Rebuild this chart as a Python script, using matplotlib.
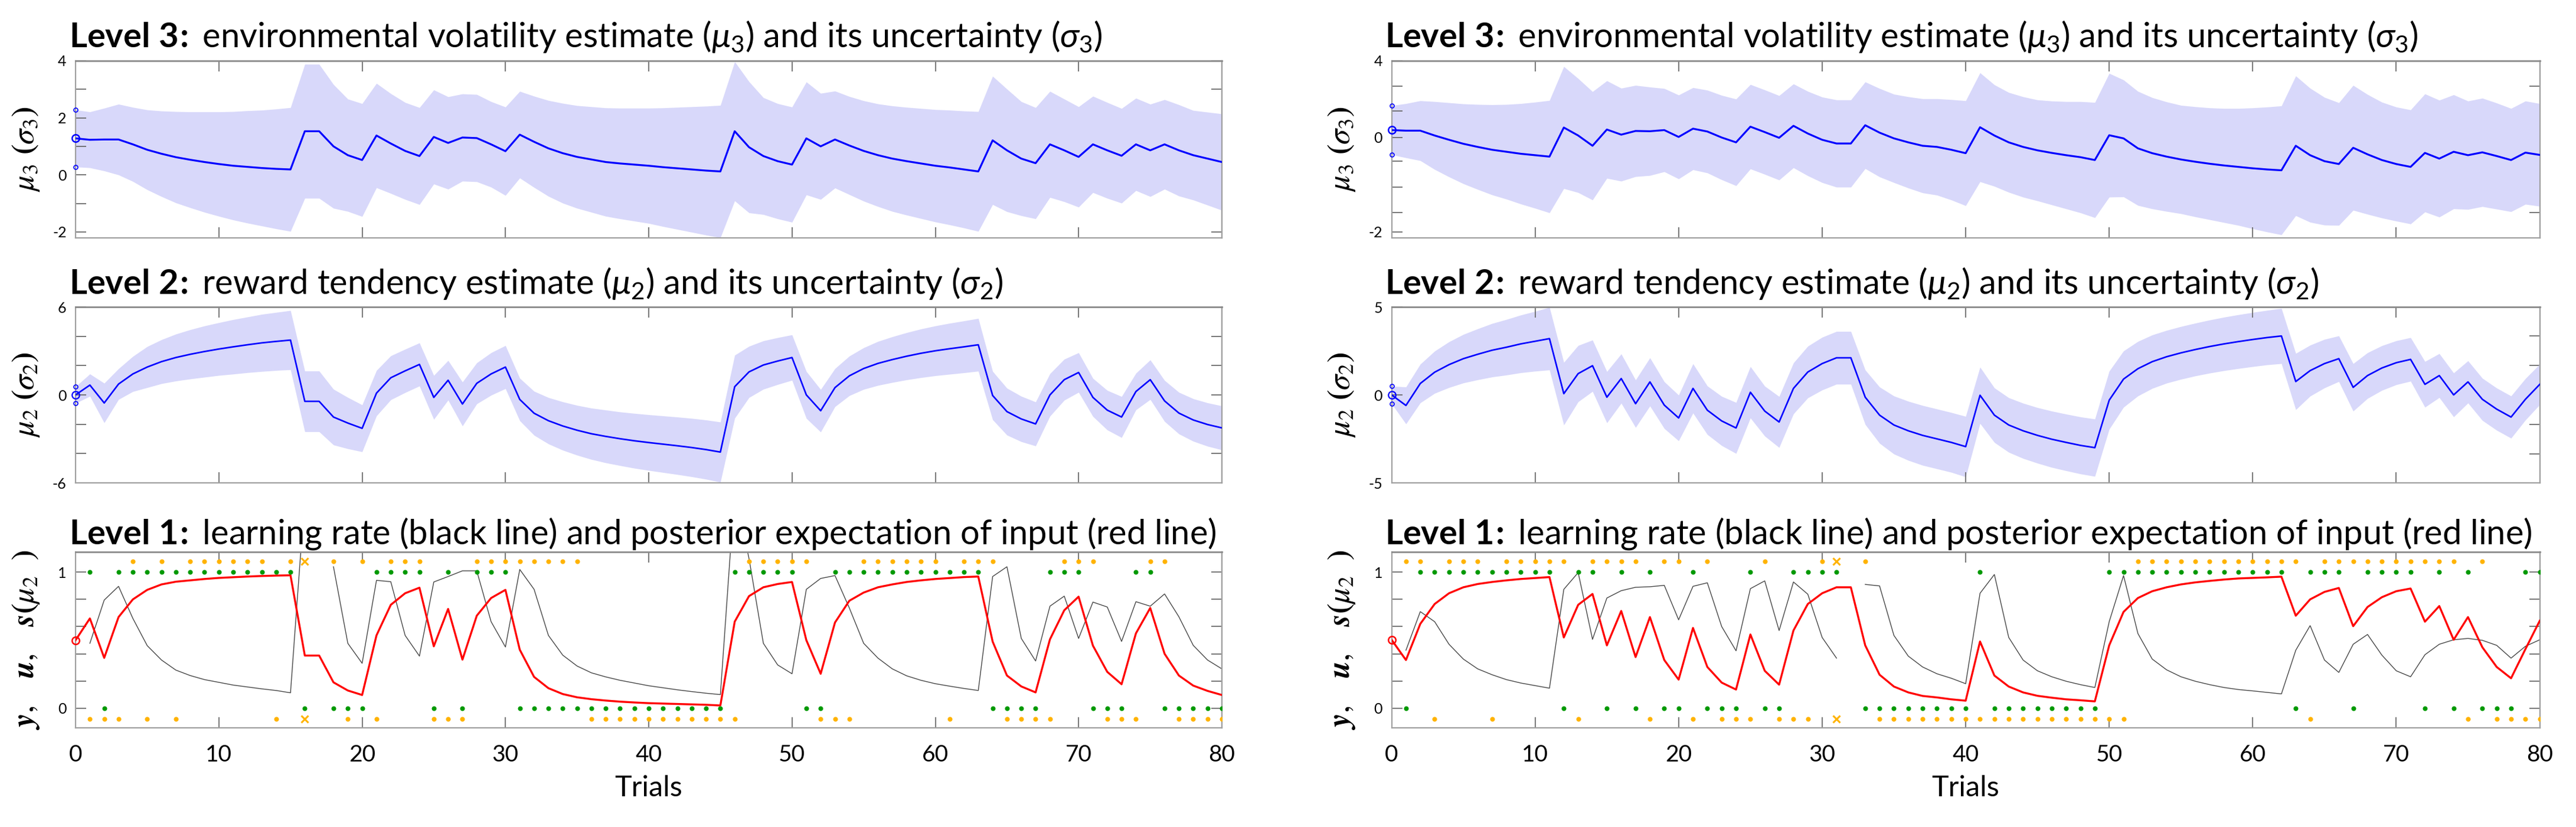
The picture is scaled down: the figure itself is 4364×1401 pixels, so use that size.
import numpy as np
import matplotlib
matplotlib.use('Agg')
import matplotlib.pyplot as plt

nan = np.nan
trials = np.arange(81)

# ---------------- left subject ----------------
mu3_A = [1.28, 1.23, 1.24, 1.24, 1.07, 0.88, 0.74, 0.62, 0.53, 0.45, 0.38, 0.32, 0.28, 0.24, 0.21, 0.19,
         1.53, 1.53, 1.0, 0.69, 0.52, 1.38, 1.1, 0.84, 0.66, 1.33, 1.12, 1.31, 1.29, 1.07, 0.83,
         1.41, 1.16, 0.93, 0.76, 0.63, 0.54, 0.45, 0.4, 0.36, 0.32, 0.27, 0.23, 0.19, 0.15, 0.12,
         1.53, 0.97, 0.66, 0.48, 0.36, 1.28, 1.0, 1.24, 1.03, 0.84, 0.69, 0.57, 0.48, 0.4, 0.32,
         0.26, 0.19, 0.12, 1.21, 0.86, 0.57, 0.41, 1.07, 0.86, 0.63, 1.07, 0.86, 0.67, 1.07, 0.86,
         1.07, 0.86, 0.69, 0.57, 0.45]
sd3_A = [1.0, 0.98, 1.1, 1.24, 1.3, 1.4, 1.5, 1.6, 1.68, 1.76, 1.83, 1.9, 1.97, 2.03, 2.1, 2.17,
         2.35, 2.35, 2.17, 1.97, 1.98, 1.83, 1.75, 1.7, 1.7, 1.65, 1.62, 1.53, 1.53, 1.5, 1.55,
         1.52, 1.6, 1.68, 1.75, 1.8, 1.85, 1.9, 1.94, 1.98, 2.02, 2.08, 2.14, 2.2, 2.26, 2.32,
         2.44, 2.3, 2.05, 2.02, 2.02, 1.98, 1.86, 1.7, 1.72, 1.76, 1.8, 1.85, 1.89, 1.93, 1.97,
         2.01, 2.05, 2.1, 2.25, 2.15, 2.0, 1.95, 1.86, 1.8, 1.76, 1.69, 1.68, 1.66, 1.62, 1.62,
         1.57, 1.6, 1.57, 1.63, 1.69]
mu2_A = [0.0, 0.67, -0.55, 0.74, 1.43, 1.9, 2.27, 2.55, 2.77, 2.96, 3.13, 3.28, 3.42, 3.55, 3.65, 3.74,
         -0.44, -0.44, -1.51, -1.92, -2.28, 0.12, 1.17, 1.64, 2.08, -0.17, 1.0, -0.62, 0.79, 1.43, 1.9,
         -0.31, -1.25, -1.76, -2.12, -2.41, -2.65, -2.83, -2.99, -3.13, -3.25, -3.36, -3.47, -3.59, -3.73, -3.9,
         0.56, 1.57, 2.04, 2.31, 2.55, 0.0, -1.08, 0.5, 1.3, 1.8, 2.15, 2.41, 2.64, 2.84, 3.01,
         3.15, 3.28, 3.42, -0.04, -1.14, -1.64, -1.98, 0.0, 1.04, 1.53, -0.17, -1.04, -1.51, 0.23, 1.04,
         -0.41, -1.24, -1.71, -2.02, -2.25]
sd2_A = [0.57, 0.76, 1.35, 1.05, 1.2, 1.4, 1.5, 1.6, 1.68, 1.75, 1.8, 1.86, 1.9, 1.95, 1.98, 2.02,
         2.07, 2.07, 1.9, 1.75, 1.6, 1.55, 1.5, 1.48, 1.47, 1.5, 1.35, 1.5, 1.4, 1.45, 1.47,
         1.45, 1.5, 1.58, 1.65, 1.7, 1.75, 1.8, 1.83, 1.87, 1.9, 1.93, 1.96, 1.99, 2.02, 2.05,
         2.15, 1.75, 1.65, 1.6, 1.55, 1.6, 1.45, 1.3, 1.35, 1.42, 1.5, 1.56, 1.61, 1.66, 1.7,
         1.74, 1.77, 1.8, 1.65, 1.6, 1.55, 1.5, 1.45, 1.4, 1.35, 1.3, 1.35, 1.4, 1.25, 1.35,
         1.4, 1.42, 1.45, 1.48, 1.5]
s_mu2_A = [0.50, 0.66, 0.37, 0.67, 0.80, 0.87, 0.91, 0.93, 0.94, 0.95, 0.958, 0.963, 0.968, 0.972, 0.975, 0.977,
           0.387, 0.387, 0.19, 0.13, 0.097, 0.535, 0.76, 0.845, 0.886, 0.455, 0.73, 0.357, 0.68, 0.81, 0.87,
           0.43, 0.23, 0.147, 0.104, 0.08, 0.066, 0.056, 0.048, 0.042, 0.037, 0.034, 0.031, 0.028, 0.025, 0.02,
           0.636, 0.824, 0.889, 0.913, 0.928, 0.5, 0.253, 0.63, 0.79, 0.85, 0.889, 0.91, 0.928, 0.94, 0.95,
           0.957, 0.964, 0.968, 0.49, 0.24, 0.16, 0.116, 0.506, 0.72, 0.82, 0.46, 0.267, 0.176, 0.55, 0.737,
           0.40, 0.24, 0.166, 0.127, 0.097]
lr_A = [nan, 0.477, 0.795, 0.896, 0.66, 0.46, 0.354, 0.28, 0.24, 0.21, 0.19, 0.17, 0.156, 0.142, 0.13, 0.113,
        1.56, nan, 1.04, 0.477, 0.33, 0.94, 0.93, 0.535, 0.383, 0.928, 0.968, 1.01, 1.01, 0.636, 0.45,
        1.02, 0.874, 0.535, 0.39, 0.31, 0.26, 0.23, 0.205, 0.185, 0.165, 0.15, 0.135, 0.122, 0.11, 0.10,
        1.6, 1.1, 0.477, 0.318, 0.253, 0.874, 0.954, 0.975, 0.737, 0.477, 0.368, 0.289, 0.238, 0.205, 0.18,
        0.162, 0.145, 0.13, 0.968, 1.04, 0.513, 0.347, 0.75, 0.824, 0.513, 0.78, 0.744, 0.491, 0.783, 0.75,
        0.84, 0.672, 0.462, 0.354, 0.289]
u_A = [nan, 1, 0, 1, 1, 1, 1, 1, 1, 1, 1, 1, 1, 1, 1, 1, 0, nan, 0, 0, 0, 1, 1, 1, 1, 0, 1, 0, 1, 1, 1,
       0, 0, 0, 0, 0, 0, 0, 0, 0, 0, 0, 0, 0, 0, 0, 1, 1, 1, 1, 1, 0, 0, 1, 1, 1, 1, 1, 1, 1, 1,
       1, 1, 1, 0, 0, 0, 0, 1, 1, 1, 0, 0, 0, 1, 1, 0, 0, 0, 0, 0]
y_A = [nan, 0, 0, 0, 1, 0, 1, 0, 1, 1, 1, 1, 1, 1, 0, 1, nan, nan, 1, 0, 1, 0, 1, 1, 1, 0, 0, 0, 1, 1, 1,
       1, 1, 1, 1, 1, 0, 0, 0, 0, 0, 0, 0, 0, 0, 0, 0, 1, 1, 1, 1, 1, 0, 0, 0, 1, 1, 1, 1, 1, 1,
       0, 1, 1, 1, 0, 0, 0, 0, 1, 1, 1, 0, 0, 0, 1, 1, 0, 0, 0, 0]
irr_A = [16]

# ---------------- right subject ----------------
mu3_B = [1.57, 1.55, 1.55, 1.38, 1.23, 1.09, 0.98, 0.88, 0.81, 0.74, 0.69, 0.64, 1.66, 1.38, 1.02, 1.59,
         1.41, 1.54, 1.53, 1.57, 1.33, 1.62, 1.52, 1.31, 1.14, 1.69, 1.5, 1.3, 1.72, 1.45, 1.23,
         1.1, 1.1, 1.74, 1.48, 1.28, 1.14, 1.02, 0.98, 0.88, 0.76, 1.67, 1.38, 1.14, 0.98, 0.86,
         0.77, 0.69, 0.62, 0.52, 1.39, 1.28, 0.93, 0.76, 0.64, 0.54, 0.46, 0.39, 0.33, 0.28, 0.23,
         0.19, 0.16, 1.02, 0.69, 0.48, 0.38, 0.95, 0.72, 0.52, 0.38, 0.28, 0.77, 0.57, 0.81, 0.69,
         0.79, 0.66, 0.52, 0.78, 0.7]
sd3_B = [0.86, 0.95, 1.05, 1.19, 1.3, 1.4, 1.49, 1.58, 1.66, 1.76, 1.86, 1.97, 2.14, 2.0, 1.9, 1.71,
         1.63, 1.6, 1.55, 1.46, 1.47, 1.44, 1.45, 1.48, 1.52, 1.48, 1.48, 1.48, 1.47, 1.48, 1.5,
         1.53, 1.53, 1.52, 1.55, 1.55, 1.6, 1.65, 1.69, 1.76, 1.84, 1.91, 1.78, 1.75, 1.76, 1.77,
         1.82, 1.88, 1.95, 2.02, 2.17, 2.05, 2.0, 1.95, 1.92, 1.9, 1.93, 1.96, 2.0, 2.05, 2.12,
         2.19, 2.26, 2.45, 2.35, 2.24, 2.15, 2.19, 2.1, 2.03, 2.0, 2.0, 2.07, 2.05, 2.0, 1.9,
         1.9, 1.86, 1.81, 1.81, 1.8]
mu2_B = [0.0, -0.6, 0.65, 1.29, 1.72, 2.06, 2.31, 2.54, 2.71, 2.9, 3.05, 3.2, 0.07, 1.21, 1.66, -0.13,
         0.93, -0.5, 0.74, -0.58, -1.31, 0.37, -0.87, -1.48, -1.88, 0.15, -0.92, -1.54, 0.37, 1.3, 1.78,
         2.11, 2.11, -0.13, -1.15, -1.71, -2.04, -2.3, -2.5, -2.7, -2.94, -0.02, -1.15, -1.71, -2.04, -2.3,
         -2.52, -2.7, -2.87, -3.0, -0.3, 0.9, 1.49, 1.89, 2.17, 2.39, 2.58, 2.75, 2.9, 3.03, 3.15,
         3.26, 3.35, 0.76, 1.38, 1.78, 2.06, 0.43, 1.1, 1.53, 1.83, 2.02, 0.6, 1.1, 0.0, 0.74,
         -0.25, -0.81, -1.26, -0.25, 0.6]
sd2_B = [0.5, 1.05, 1.1, 1.2, 1.3, 1.38, 1.45, 1.52, 1.58, 1.64, 1.7, 1.78, 1.78, 1.6, 1.46, 1.46,
         1.4, 1.35, 1.37, 1.33, 1.3, 1.4, 1.38, 1.4, 1.45, 1.46, 1.42, 1.45, 1.45, 1.47, 1.5,
         1.5, 1.5, 1.55, 1.6, 1.65, 1.68, 1.7, 1.7, 1.7, 1.72, 1.6, 1.55, 1.55, 1.57, 1.58,
         1.6, 1.61, 1.62, 1.63, 1.65, 1.6, 1.55, 1.52, 1.5, 1.5, 1.5, 1.51, 1.52, 1.53, 1.54,
         1.55, 1.57, 1.6, 1.45, 1.38, 1.3, 1.35, 1.3, 1.27, 1.25, 1.24, 1.3, 1.25, 1.25, 1.2,
         1.2, 1.2, 1.2, 1.18, 1.15]
s_mu2_B = [0.503, 0.354, 0.62, 0.766, 0.845, 0.889, 0.913, 0.928, 0.94, 0.95, 0.957, 0.964, 0.52, 0.76, 0.84, 0.462,
           0.715, 0.376, 0.67, 0.354, 0.21, 0.59, 0.303, 0.188, 0.137, 0.542, 0.275, 0.173, 0.571, 0.766, 0.845,
           0.889, 0.889, 0.462, 0.246, 0.159, 0.116, 0.09, 0.079, 0.065, 0.055, 0.49, 0.24, 0.159, 0.116, 0.091,
           0.077, 0.065, 0.058, 0.05, 0.462, 0.708, 0.81, 0.86, 0.889, 0.91, 0.925, 0.936, 0.946, 0.954, 0.958,
           0.962, 0.967, 0.68, 0.80, 0.855, 0.884, 0.603, 0.744, 0.816, 0.86, 0.88, 0.636, 0.751, 0.503, 0.67,
           0.448, 0.303, 0.22, 0.434, 0.643]
lr_B = [nan, 0.426, 0.71, 0.636, 0.47, 0.361, 0.289, 0.246, 0.21, 0.185, 0.166, 0.147, 0.874, 0.997, 0.506, 0.81,
        0.864, 0.889, 0.893, 0.903, 0.65, 0.896, 0.922, 0.6, 0.422, 0.879, 0.936, 0.571, 0.928, 0.838, 0.52,
        0.368, nan, 0.91, 0.899, 0.535, 0.383, 0.303, 0.253, 0.22, 0.18, 0.845, 0.983, 0.52, 0.354, 0.275,
        0.231, 0.198, 0.173, 0.152, 0.636, 0.975, 0.549, 0.361, 0.282, 0.231, 0.198, 0.173, 0.152, 0.137, 0.127,
        0.116, 0.105, 0.426, 0.607, 0.354, 0.263, 0.47, 0.542, 0.39, 0.275, 0.231, 0.393, 0.47, 0.503, 0.513,
        0.499, 0.462, 0.368, 0.455, 0.503]
u_B = [nan, 0, 1, 1, 1, 1, 1, 1, 1, 1, 1, 1, 0, 1, 1, 0, 1, 0, 1, 0, 0, 1, 0, 0, 0, 1, 0, 0, 1, 1, 1,
       1, nan, 0, 0, 0, 0, 0, 0, 0, 0, 1, 0, 0, 0, 0, 0, 0, 0, 0, 1, 1, 1, 1, 1, 1, 1, 1, 1, 1, 1,
       1, 1, 0, 1, 1, 1, 0, 1, 1, 1, 1, 0, 1, 0, 1, 0, 0, 0, 1, 1]
y_B = [nan, 1, 1, 0, 1, 1, 1, 0, 1, 1, 1, 1, 1, 0, 1, 1, 1, 1, 0, 1, 1, 0, 1, 0, 0, 0, 1, 0, 0, 0, 1,
       nan, nan, 1, 0, 0, 0, 0, 0, 0, 0, 0, 0, 0, 0, 0, 0, 0, 0, 0, 0, 0, 1, 1, 1, 1, 1, 1, 1, 1, 1,
       1, 1, 1, 0, 1, 1, 1, 1, 1, 1, 1, 1, 1, 1, 0, 1, 0, 0, 0, 0]
irr_B = [31]

for arr in [mu3_A, sd3_A, mu2_A, sd2_A, s_mu2_A, lr_A, u_A, y_A,
            mu3_B, sd3_B, mu2_B, sd2_B, s_mu2_B, lr_B, u_B, y_B]:
    assert len(arr) == 81, len(arr)

# ---------------- style ----------------
plt.rcParams['font.family'] = ['Lato', 'DejaVu Sans']
plt.rcParams['mathtext.fontset'] = 'custom'
plt.rcParams['mathtext.rm'] = 'Lato'
plt.rcParams['mathtext.it'] = 'Lato:italic'
plt.rcParams['mathtext.bf'] = 'Lato:bold'

W, H = 4364, 1401
fig = plt.figure(figsize=(W / 100, H / 100), dpi=100)

cols = [(128, 2070), (2357.5, 4302.6)]
rows = [(103, 403), (520, 818), (935, 1233)]
SPINE = '#a0a0a0'
TICKC = '#606060'
BAND = '#d8d8fa'
GREEN = (0, 0.6, 0)
ORANGE = (1, 0.7, 0)


def make_ax(c, r):
    x0, x1 = cols[c]
    y0, y1 = rows[r]
    return fig.add_axes([x0 / W, 1 - y1 / H, (x1 - x0) / W, (y1 - y0) / H])


def style(ax, ylim, lticks, llabels, rticks, xlabels):
    ax.set_xlim(0, 80)
    ax.set_ylim(*ylim)
    ax.set_xticks(range(0, 81, 10))
    if not xlabels:
        ax.set_xticklabels([])
    ax.set_yticks(lticks)
    ax.set_yticklabels(llabels)
    ax.tick_params(axis='both', direction='in', length=13, width=1.2, color=TICKC, top=True)
    ax.tick_params(axis='x', labelsize=28, pad=20)
    ax.tick_params(axis='y', labelsize=18, pad=11)
    for s in ax.spines.values():
        s.set_color(SPINE)
        s.set_linewidth(1.6)
    ax.spines['top'].set_color('#8a8a8a')
    ax.spines['top'].set_linewidth(2.0)
    sec = ax.secondary_yaxis('right')
    sec.set_yticks(rticks)
    sec.set_yticklabels([])
    sec.tick_params(direction='in', length=13, width=1.2, color=TICKC)
    sec.spines['right'].set_color(SPINE)
    sec.spines['right'].set_linewidth(1.6)


def ylabel(ax, text, size=38):
    ax.set_ylabel(text, fontsize=size, math_fontfamily='stix')
    ax.yaxis.set_label_coords(-0.030, 0.5)


titles = []


def title(ax, text, dy):
    t = ax.annotate(text, xy=(0, 1), xycoords='axes fraction', xytext=(-11, dy),
                    textcoords='offset pixels', ha='left', va='baseline', fontsize=36)
    titles.append(t)
    return t


T3 = r'$\mathbf{Level\ 3\!:}$ environmental volatility estimate ($\mu_3$) and its uncertainty ($\sigma_3$)'
T2 = r'$\mathbf{Level\ 2\!:}$ reward tendency estimate ($\mu_2$) and its uncertainty ($\sigma_2$)'
T1 = r'$\mathbf{Level\ 1\!:}$ learning rate (black line) and posterior expectation of input (red line)'

subjects = [
    dict(mu3=mu3_A, sd3=sd3_A, mu2=mu2_A, sd2=sd2_A, s=s_mu2_A, lr=lr_A, u=u_A, y=y_A, irr=irr_A),
    dict(mu3=mu3_B, sd3=sd3_B, mu2=mu2_B, sd2=sd2_B, s=s_mu2_B, lr=lr_B, u=u_B, y=y_B, irr=irr_B),
]

for c, d in enumerate(subjects):
    # ----- level 3 -----
    ax = make_ax(c, 0)
    mu3 = np.array(d['mu3']); sd3 = np.array(d['sd3'])
    ax.fill_between(trials, mu3 - sd3, mu3 + sd3, color=BAND, lw=0, zorder=1)
    ax.plot(trials, mu3, color='b', lw=2.3, zorder=3)
    ax.plot([0], [mu3[0]], 'o', mfc='none', mec='b', ms=9, mew=1.8, clip_on=False, zorder=4)
    ax.plot([0, 0], [mu3[0] - sd3[0], mu3[0] + sd3[0]], 'o', mfc='none', mec='b', ms=5, mew=1.2,
            ls='none', clip_on=False, zorder=4)
    if c == 0:
        style(ax, (-2.21, 4.0), [4, 3, 2, 1, 0, -1, -2], ['4', '', '2', '', '0', '', '-2'],
              [4, 3, 2, 1, 0, -1, -2], False)
    else:
        style(ax, (-2.21, 4.0), [4.0, 3.12, 2.24, 1.31, 0.48, -0.43, -1.32, -2.0],
              ['4', '', '', '0', '', '', '', '-2'],
              [3.12, 2.23, 1.34, 0.45, -0.45, -1.32], False)
    ylabel(ax, r'$\boldsymbol{\mu_3\ (\sigma_3)}$')
    title(ax, T3, 23)

    # ----- level 2 -----
    ax = make_ax(c, 1)
    mu2 = np.array(d['mu2']); sd2 = np.array(d['sd2'])
    ax.fill_between(trials, mu2 - sd2, mu2 + sd2, color=BAND, lw=0, zorder=1)
    ax.plot(trials, mu2, color='b', lw=1.9, zorder=3)
    ax.plot([0], [mu2[0]], 'o', mfc='none', mec='b', ms=9, mew=1.6, clip_on=False, zorder=4)
    ax.plot([0, 0], [mu2[0] - sd2[0], mu2[0] + sd2[0]], 'o', mfc='none', mec='b', ms=5, mew=1.2,
            ls='none', clip_on=False, zorder=4)
    if c == 0:
        style(ax, (-6, 6), [6, 4, 2, 0, -2, -4, -6], ['6', '', '', '0', '', '', '-6'],
              [4, 2, 0, -2, -4], False)
    else:
        style(ax, (-5, 5), [5, 0, -5], ['5', '0', '-5'],
              [3.37, 1.69, 0, -1.67, -3.35], False)
    ylabel(ax, r'$\boldsymbol{\mu_2\ (\sigma_2)}$')
    title(ax, T2, 22)

    # ----- level 1 -----
    ax = make_ax(c, 2)
    u = np.array(d['u'], dtype=float); y = np.array(d['y'], dtype=float)
    ax.plot(trials, u, 'o', color=GREEN, ms=5.8, mew=0, zorder=4)
    ax.plot(trials, 1.16 * y - 0.08, 'o', color=ORANGE, ms=5.8, mew=0, zorder=4)
    irr = np.array(d['irr'])
    ax.plot(irr, np.full(len(irr), 1.08), 'x', color=ORANGE, ms=9, mew=2.2, zorder=4)
    ax.plot(irr, np.full(len(irr), -0.08), 'x', color=ORANGE, ms=9, mew=2.2, zorder=4)
    ax.plot(trials, d['lr'], color='#454545', lw=1.0, zorder=2)
    ax.plot(trials, d['s'], color='r', lw=2.4, zorder=3)
    ax.plot([0], [d['s'][0]], 'o', mfc='none', mec='r', ms=9, mew=1.8, clip_on=False, zorder=5)
    lt = [0, 0.2, 0.4, 0.6, 0.8, 1.0]
    style(ax, (-0.1445, 1.149), lt, ['0', '', '', '', '', '1'], lt, True)
    ylabel(ax, r'$\boldsymbol{y,\ \ \ u,\ \ \ s(\mu_2\ \ )}$')
    ax.set_xlabel('Trials', fontsize=35)
    ax.xaxis.set_label_coords(0.5, -0.27)
    ax.xaxis.label.set_va('top')
    title(ax, T1, 13)

# fit title font size to the measured width of the level-3 title (about 1750 px)
fig.canvas.draw()
r = fig.canvas.get_renderer()
w = titles[0].get_window_extent(r).width
fs = 36 * 1750.0 / w
for t in titles:
    t.set_fontsize(fs)

fig.savefig('out.png', dpi=100, facecolor='white')
